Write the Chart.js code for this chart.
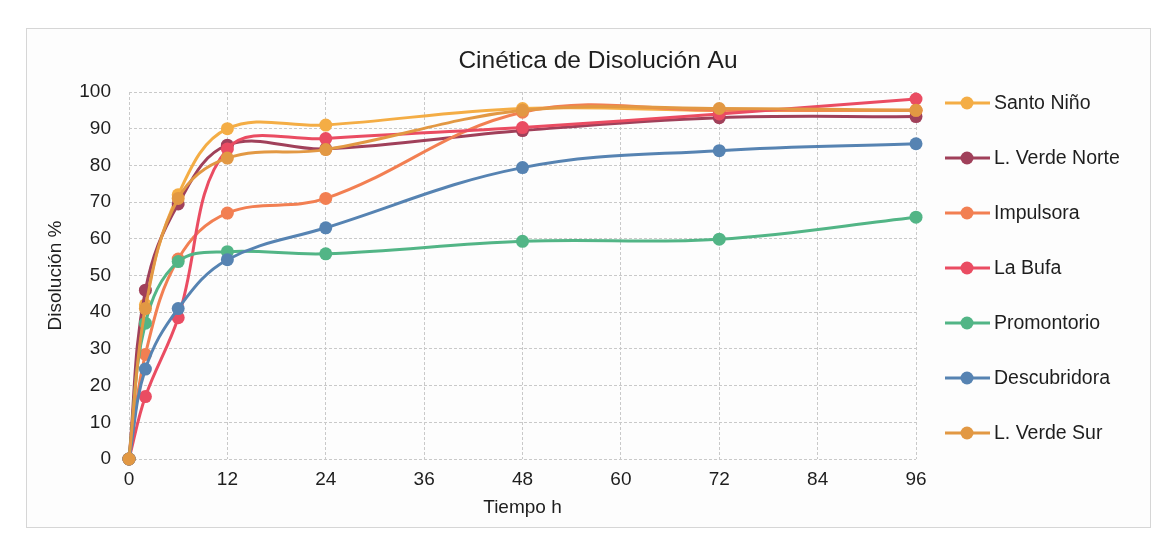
<!DOCTYPE html>
<html>
<head>
<meta charset="utf-8">
<title>Cinética de Disolución Au</title>
<script src="https://cdn.jsdelivr.net/npm/chart.js@4.4.1/dist/chart.umd.min.js"></script>
<style>
    html, body { margin: 0; padding: 0; background: #ffffff; }
    canvas { display: block; }
</style>
</head>
<body>
<canvas id="kineticsChart" width="1163" height="542"></canvas>
<script>
// Sampling times (h)
const hours = [0, 2, 6, 12, 24, 48, 72, 96];

// Dissolution % per sample
const santoNino    = [0, 42, 72, 90, 91, 95.5, 95, 95];
const verdeNorte   = [0, 46, 69.5, 85.5, 84.5, 89.5, 93, 93.3];
const impulsora    = [0, 28.5, 54.5, 67, 71, 94.5, 95, 95];
const laBufa       = [0, 17, 38.5, 84.5, 87.3, 90.3, 94, 98.1];
const promontorio  = [0, 37, 53.8, 56.5, 55.9, 59.3, 59.9, 65.9];
const descubridora = [0, 24.5, 41, 54.3, 63, 79.4, 84, 85.9];
const verdeSur     = [0, 41, 71, 82, 84.3, 95, 95.5, 95];

const seriesNames = ['Santo Niño', 'L. Verde Norte', 'Impulsora', 'La Bufa', 'Promontorio', 'Descubridora', 'L. Verde Sur'];
const seriesData = [santoNino, verdeNorte, impulsora, laBufa, promontorio, descubridora, verdeSur];
const seriesColors = ['#f4ad45', '#a0405a', '#f27f52', '#ea4c62', '#52b586', '#5683b2', '#e29843'];

// Tick labels
const xTickValues = [0, 12, 24, 36, 48, 60, 72, 84, 96];
const yTickValues = [0, 10, 20, 30, 40, 50, 60, 70, 80, 90, 100];

const FONT = 'Liberation Sans, Arial, sans-serif';
const TEXT_COLOR = '#1e1e1e';

// Frame, title and legend drawn around the plot
const decorPlugin = {
    id: 'decor',
    beforeDraw(chart) {
        const ctx = chart.ctx;
        ctx.save();
        ctx.fillStyle = '#fdfdfd';
        ctx.fillRect(26.5, 28.5, 1124, 499);
        ctx.strokeStyle = '#d6d6d6';
        ctx.lineWidth = 1;
        ctx.strokeRect(26.5, 28.5, 1124, 499);
        ctx.restore();
    },
    afterDraw(chart) {
        const ctx = chart.ctx;
        ctx.save();
        ctx.fillStyle = TEXT_COLOR;
        ctx.font = '24.5px ' + FONT;
        ctx.textAlign = 'center';
        ctx.textBaseline = 'middle';
        ctx.fillText('Cinética de Disolución Au', 598, 61);

        ctx.font = '19.5px ' + FONT;
        ctx.textAlign = 'left';
        chart.data.datasets.forEach((ds, i) => {
            const y = 103 + i * 55;
            ctx.strokeStyle = ds.borderColor;
            ctx.lineWidth = 3;
            ctx.beginPath();
            ctx.moveTo(945, y);
            ctx.lineTo(990, y);
            ctx.stroke();
            ctx.fillStyle = ds.backgroundColor;
            ctx.beginPath();
            ctx.arc(967, y, 6.5, 0, Math.PI * 2);
            ctx.fill();
            ctx.fillStyle = TEXT_COLOR;
            ctx.fillText(ds.label, 994, y + 1);
        });
        ctx.restore();
    }
};

const datasets = seriesNames.map((name, i) => ({
    label: name,
    data: hours.map((h, j) => ({ x: h, y: seriesData[i][j] })),
    borderColor: seriesColors[i],
    backgroundColor: seriesColors[i],
    pointBackgroundColor: seriesColors[i],
    pointBorderColor: seriesColors[i],
    pointRadius: 6.5,
    pointBorderWidth: 0,
    borderWidth: 3,
    tension: 0.38,
    fill: false,
    clip: false,
    order: seriesNames.length - i
}));

new Chart(document.getElementById('kineticsChart'), {
    type: 'line',
    data: { datasets },
    plugins: [decorPlugin],
    options: {
        responsive: false,
        animation: false,
        layout: {
            padding: { left: 27, top: 92, right: 247, bottom: 20 }
        },
        plugins: {
            legend: { display: false },
            title: { display: false },
            tooltip: { enabled: false }
        },
        scales: {
            x: {
                type: 'linear',
                min: 0,
                max: 96,
                afterBuildTicks: (scale) => { scale.ticks = xTickValues.map(v => ({ value: v })); },
                afterFit: (scale) => { scale.height = 63; },
                grid: { color: '#c9c9c9', drawTicks: false },
                border: { display: false, dash: [3, 2] },
                ticks: { color: TEXT_COLOR, font: { family: FONT, size: 19 }, padding: 9, maxRotation: 0 },
                title: {
                    display: true,
                    text: 'Tiempo h',
                    color: TEXT_COLOR,
                    font: { family: FONT, size: 19 },
                    padding: { top: 0, bottom: 3 }
                }
            },
            y: {
                min: 0,
                max: 100,
                afterBuildTicks: (scale) => { scale.ticks = yTickValues.map(v => ({ value: v })); },
                afterFit: (scale) => { scale.width = 102; },
                grid: { color: '#c9c9c9', drawTicks: false },
                border: { display: false, dash: [3, 2] },
                ticks: { color: TEXT_COLOR, font: { family: FONT, size: 19 }, padding: 18 },
                title: {
                    display: true,
                    text: 'Disolución %',
                    color: TEXT_COLOR,
                    font: { family: FONT, size: 19 },
                    padding: { top: 17, bottom: 0 }
                }
            }
        }
    }
});
</script>
</body>
</html>
